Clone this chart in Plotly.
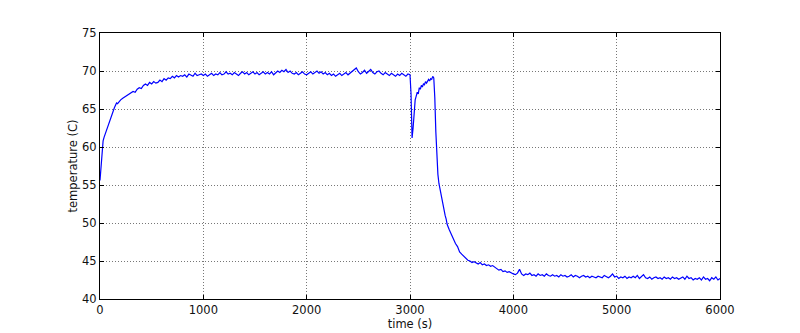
import plotly.graph_objects as go

# ---- data: segments of (start time s, step s, temperatures C) ----
seg1_start, seg1_step = 0, 10
seg1_temp = [55.6, 57.5, 60.0, 60.8, 61.3, 61.7, 62.1, 62.6, 62.9, 63.4, 63.9,
             64.3, 64.6, 65.0, 65.2, 65.5, 65.8, 65.7, 65.9, 66.1, 66.2]

seg2_start, seg2_step = 220, 20
seg2_temp = [66.4, 66.6, 66.8, 67.0, 67.2, 67.3, 67.2, 67.6, 67.8, 67.7,
             68.1, 68.3, 68.1, 68.5, 68.3, 68.6, 68.4, 68.5, 68.8, 68.6,
             69.0, 68.8, 69.1, 69.0, 69.3, 69.1, 69.4, 69.2, 69.4, 69.3,
             69.5, 69.2, 69.6, 69.4, 69.3, 69.7, 69.4, 69.5, 69.6, 69.4,
             69.6, 69.3, 69.5, 69.7, 69.4, 69.6, 69.5, 69.8, 69.5, 69.6,
             69.9, 69.6, 69.7, 69.5, 69.8, 69.6, 69.4, 69.7, 69.9, 69.6,
             69.8, 69.5, 69.7, 69.9, 69.6, 69.8, 69.5, 69.7, 69.9, 69.6,
             69.8, 69.6, 69.9, 69.5, 69.7, 70.0, 69.8, 70.1, 69.9, 70.2,
             69.8, 70.0, 69.7, 69.6, 69.8, 69.5, 69.7, 69.9, 69.6, 69.5,
             69.7, 69.9, 69.6, 69.8, 70.0, 69.7, 69.9, 69.6, 69.8, 69.5,
             69.7, 69.4, 69.6, 69.3, 69.5, 69.7, 69.4, 69.6, 69.8, 69.5,
             69.7, 69.9, 70.2, 70.4, 69.9, 69.6, 69.8, 70.1, 69.7, 70.0,
             70.2, 69.8, 69.6, 69.9, 70.0, 69.7, 69.5, 69.8, 69.6, 69.4,
             69.7, 69.5, 69.3, 69.6, 69.4, 69.7, 69.5, 69.3, 69.6, 69.5]

seg3_start, seg3_step = 3010, 10
seg3_temp = [67.0, 61.2, 62.5, 64.8, 66.2, 66.7, 67.2, 67.0, 67.8, 67.6,
             68.1, 67.9, 68.3, 68.2, 68.6, 68.4, 68.7, 68.9, 68.7, 69.0,
             68.9, 69.3, 69.1, 66.5, 62.0, 58.8, 56.4, 55.2, 54.4, 53.6,
             53.0, 52.3, 51.8, 51.0, 50.5, 49.8]

seg4_start, seg4_step = 3380, 20
seg4_temp = [49.1, 48.5, 47.8, 47.3, 46.9, 46.2, 45.9, 45.6, 45.3, 45.1,
             45.0, 44.8, 44.9, 44.7, 44.6, 44.8, 44.5, 44.6, 44.4, 44.5,
             44.3, 44.4, 44.2, 44.0, 43.8, 43.9, 43.6, 43.7, 43.5, 43.6,
             43.4, 43.3, 43.2, 43.4, 43.9, 43.3, 43.1, 43.3, 43.2, 43.4,
             43.1, 43.2, 43.0, 43.3, 43.1, 43.2, 43.0, 43.3, 43.1, 43.0,
             43.2, 43.0, 43.1, 42.9, 43.2, 43.0, 43.1, 42.9, 43.0, 43.2,
             42.9, 43.1, 43.0, 42.8, 43.0, 43.1, 42.9, 43.0, 42.8, 43.0,
             42.9, 42.8, 43.0, 42.9, 42.8, 43.1, 42.9, 42.8, 43.0, 43.3,
             42.9, 43.0, 42.7, 42.9, 42.8, 43.0, 42.7, 42.9, 42.8, 43.0,
             42.8, 43.1, 42.7, 42.9, 43.2, 42.8, 42.7, 42.9, 42.6, 42.8,
             42.9, 42.7, 42.8, 42.6, 42.9, 42.7, 42.8, 42.6, 42.9, 42.7,
             42.8, 42.6, 42.7, 42.9, 42.6, 43.0, 42.7, 42.8, 42.5, 42.7,
             42.6, 42.8, 42.5, 42.9, 42.6, 42.7, 42.4, 42.8, 42.6, 42.9,
             42.5, 42.7]

x_ticks = [0, 1000, 2000, 3000, 4000, 5000, 6000]
y_ticks = [40, 45, 50, 55, 60, 65, 70, 75]

segments = [(seg1_start, seg1_step, seg1_temp), (seg2_start, seg2_step, seg2_temp),
            (seg3_start, seg3_step, seg3_temp), (seg4_start, seg4_step, seg4_temp)]
time_s, temp_c = [], []
for start, step, vals in segments:
    for i, v in enumerate(vals):
        time_s.append(start + i * step)
        temp_c.append(v)

fig = go.Figure(go.Scatter(x=time_s, y=temp_c, mode="lines",
                           line=dict(color="#0000ff", width=1.2)))

font = dict(family="DejaVu Sans", size=11.5, color="#111111")
axis_common = dict(showline=True, linecolor="black", linewidth=1, mirror="ticks",
                   ticks="inside", ticklen=4, tickcolor="black",
                   showgrid=True, gridcolor="#777777", griddash="1px,2px", gridwidth=1,
                   zeroline=False, tickfont=font, automargin=False)

fig.update_xaxes(range=[0, 6000], tickvals=x_ticks,
                 title=dict(text="time (s)", font=font, standoff=0), **axis_common)
fig.update_yaxes(range=[40, 75], tickvals=y_ticks,
                 title=dict(text="temperature (C)", font=font, standoff=2), **axis_common)

# page body has an 8px margin, so the figure is sized/offset to put the plot
# area at x 100..720, y 33..299 of the 800x333 window
fig.update_layout(width=792, height=325, margin=dict(l=92, r=80, t=25, b=34),
                  plot_bgcolor="white", paper_bgcolor="white", showlegend=False,
                  font=font)

fig.write_html("out.html")
